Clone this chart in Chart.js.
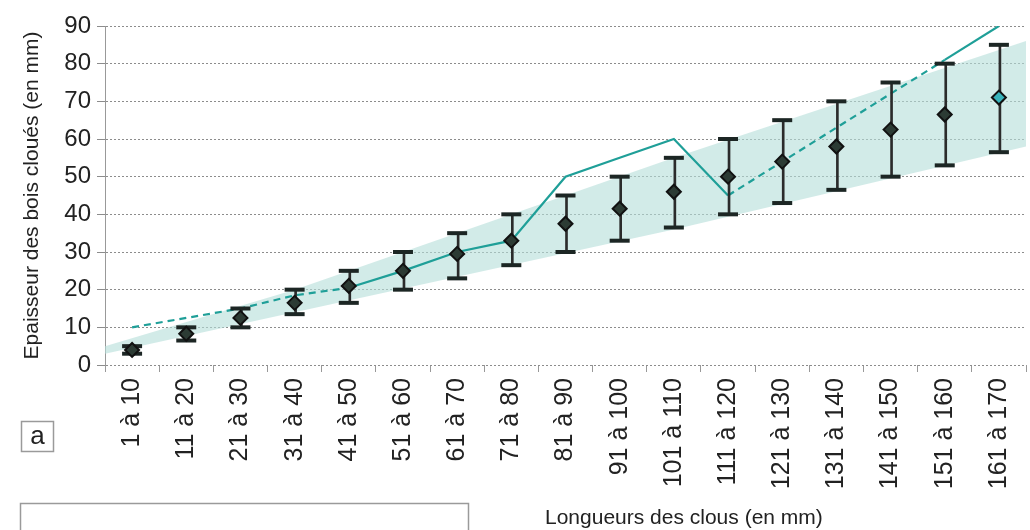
<!DOCTYPE html>
<html>
<head>
<meta charset="utf-8">
<script src="https://cdn.jsdelivr.net/npm/chart.js@4.4.1/dist/chart.umd.min.js"></script>
<style>
  html, body { margin: 0; padding: 0; background: #fff; overflow: hidden; }
  body { width: 1030px; height: 530px; }
  #wrap { position: relative; width: 1040px; height: 530px; }
</style>
</head>
<body>
<div id="wrap"><canvas id="chart"></canvas></div>
<script>
// Epaisseur des bois cloués selon la longueur des clous

const categories = ['1 à 10', '11 à 20', '21 à 30', '31 à 40', '41 à 50', '51 à 60', '61 à 70', '71 à 80', '81 à 90',
  '91 à 100', '101 à 110', '111 à 120', '121 à 130', '131 à 140', '141 à 150', '151 à 160', '161 à 170'];

// moyennes (losanges)
const means = [4, 8.3, 12.5, 16.5, 21, 25, 29.5, 33, 37.5, 41.5, 46, 50, 54, 58, 62.5, 66.5, 71];
// barres min / max
const errLow = [3, 6.5, 10, 13.5, 16.5, 20, 23, 26.5, 30, 33, 36.5, 40, 43, 46.5, 50, 53, 56.5];
const errHigh = [5, 10, 15, 20, 25, 30, 35, 40, 45, 50, 55, 60, 65, 70, 75, 80, 85];
// courbe bleu-vert
const trendLine = [10, 12.5, 15, 18.5, 20.5, 25, 30, 33, 50, 55, 60, 45, 54, 63, 72, 81, 90];
// bande grisée (positions en rang de classe)
const bandX = [0.5, 4, 11, 17.5];
const bandLow = [3, 14, 36, 58];
const bandHigh = [5, 20, 55, 86];

const yTicks = [0, 10, 20, 30, 40, 50, 60, 70, 80, 90];

const TEAL = '#1f9f98';
const INK = '#222';
const FONT = 'Liberation Sans, Arial, sans-serif';

const isDashed = i => i < 4 || (i >= 11 && i < 15);

const decor = {
  id: 'decor',
  afterDraw(chart) {
    const ctx = chart.ctx;
    ctx.save();
    ctx.fillStyle = INK;
    ctx.font = '21px ' + FONT;
    ctx.textBaseline = 'middle';
    ctx.textAlign = 'left';
    ctx.fillText('Longueurs des clous (en mm)', 545, 518);

    ctx.strokeStyle = '#9a9a9a';
    ctx.lineWidth = 1.5;
    ctx.strokeRect(21.5, 421.5, 32, 30);
    ctx.font = '26px ' + FONT;
    ctx.textAlign = 'center';
    ctx.fillText('a', 37.5, 437);

    ctx.strokeRect(20.5, 503.5, 448, 40);
    ctx.restore();
  }
};

const ctx = document.getElementById('chart').getContext('2d');
new Chart(ctx, {
  type: 'bar',
  data: {
    labels: categories,
    datasets: [
      {
        type: 'line', label: 'bandLow', xAxisID: 'xb',
        data: bandX.map((x, i) => ({ x, y: bandLow[i] })),
        borderWidth: 0, pointRadius: 0, fill: false, order: 10
      },
      {
        type: 'line', label: 'bandHigh', xAxisID: 'xb',
        data: bandX.map((x, i) => ({ x, y: bandHigh[i] })),
        borderWidth: 0, pointRadius: 0, fill: '-1',
        backgroundColor: 'rgba(180,222,217,0.6)', order: 9
      },
      {
        type: 'line', label: 'tendance', data: trendLine,
        borderColor: TEAL, borderWidth: 2.2, pointRadius: 0, fill: false, tension: 0,
        segment: { borderDash: c => isDashed(c.p0DataIndex) ? [7, 5] : undefined },
        order: 5
      },
      {
        label: 'min-max', data: errLow.map((v, i) => [v, errHigh[i]]),
        backgroundColor: '#2b2b2b', barThickness: 2, order: 4
      },
      {
        type: 'line', label: 'max', data: errHigh, showLine: false,
        pointStyle: 'line', pointRadius: 10, pointBorderWidth: 4,
        pointBorderColor: '#1c2624', order: 3
      },
      {
        type: 'line', label: 'min', data: errLow, showLine: false,
        pointStyle: 'line', pointRadius: 10, pointBorderWidth: 4,
        pointBorderColor: '#1c2624', order: 3
      },
      {
        type: 'line', label: 'moyenne', data: means, showLine: false,
        pointStyle: 'rectRot', pointRadius: 7, pointBorderWidth: 2, pointBorderColor: '#111',
        pointBackgroundColor: means.map((_, i) => i === means.length - 1 ? '#38b3bb' : '#2c3b34'),
        order: 1
      }
    ]
  },
  options: {
    responsive: true,
    maintainAspectRatio: false,
    animation: false,
    layout: { padding: { top: 26, left: 0, right: 0, bottom: 0 } },
    plugins: { legend: { display: false }, tooltip: { enabled: false } },
    scales: {
      x: {
        offset: true,
        grid: { drawOnChartArea: false, drawTicks: true, tickLength: 7, color: '#999', offset: true },
        border: { display: false },
        ticks: { color: INK, font: { family: FONT, size: 25 }, padding: 6, autoSkip: false, minRotation: 90, maxRotation: 90 },
        afterFit: s => { s.height = 165; s.paddingLeft = 0; s.paddingRight = 0; }
      },
      xb: { type: 'linear', display: false, offset: false, min: 0.5, max: 17.5 },
      y: {
        min: 0, max: 90,
        afterBuildTicks: s => { s.ticks = yTicks.map(v => ({ value: v })); },
        grid: { color: '#8c8c8c', tickLength: 8 },
        border: { display: true, color: '#999', dash: [2, 2] },
        ticks: { color: INK, font: { family: FONT, size: 24 }, padding: 6 },
        title: { display: true, text: 'Epaisseur des bois cloués (en mm)', color: INK, font: { family: FONT, size: 21 }, padding: { top: 20, bottom: 0 } },
        afterFit: s => { s.width = 105; s.paddingTop = 0; s.paddingBottom = 0; }
      }
    }
  },
  plugins: [decor]
});
</script>
</body>
</html>
